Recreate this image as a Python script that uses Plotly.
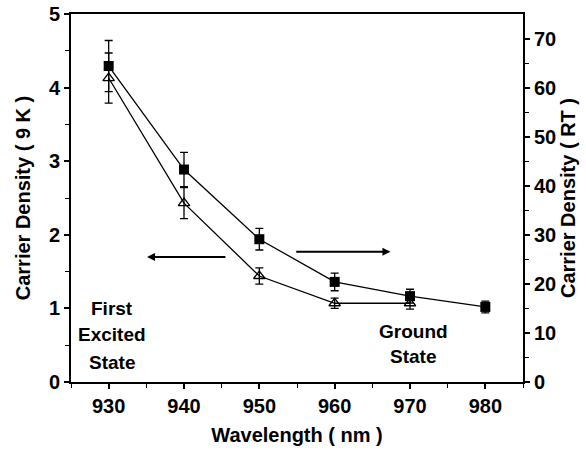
import plotly.graph_objects as go

wavelength_sq = [930, 940, 950, 960, 970, 980]
rt_density = [64.4, 43.3, 29.1, 20.4, 17.5, 15.3]
rt_err = [5.2, 3.5, 2.2, 1.8, 1.4, 1.2]

wavelength_tri = [930, 940, 950, 960, 970]
k9_density = [4.13, 2.43, 1.44, 1.07, 1.07]
k9_err = [0.34, 0.21, 0.11, 0.07, 0.08]

label_first = ["First", "Excited", "State"]
label_ground = ["Ground", "State"]

FONT = "Liberation Sans"

fig = go.Figure()
fig.add_trace(go.Scatter(
    x=wavelength_tri, y=k9_density, mode="lines+markers",
    line=dict(color="black", width=1.3),
    marker=dict(symbol="triangle-up-open", size=10, color="black", line=dict(width=1.3)),
    error_y=dict(type="data", array=k9_err, color="black", thickness=1.3, width=4),
    yaxis="y", showlegend=False))
fig.add_trace(go.Scatter(
    x=wavelength_sq, y=rt_density, mode="lines+markers",
    line=dict(color="black", width=1.3),
    marker=dict(symbol="square", size=10, color="black"),
    error_y=dict(type="data", array=rt_err, color="black", thickness=1.3, width=4),
    yaxis="y2", showlegend=False))

tickfont = dict(family=FONT, size=20, color="black", weight="bold")
titlefont = dict(family=FONT, size=20, color="black", weight="bold")

fig.update_layout(
    width=586, height=458,
    margin=dict(l=71, r=63, t=14, b=76),
    paper_bgcolor="white", plot_bgcolor="white",
    xaxis=dict(range=[925, 985], tickvals=[930, 940, 950, 960, 970, 980], automargin=False,
               ticks="outside", ticklen=5, tickwidth=1.5, tickcolor="black",
               minor=dict(tickvals=[925, 935, 945, 955, 965, 975, 985], ticks="outside", ticklen=4, tickwidth=1.2, tickcolor="black"),
               showline=True, linecolor="black", linewidth=2, mirror=True,
               showgrid=False, zeroline=False, tickfont=tickfont,
               title=dict(text="Wavelength ( nm )", font=titlefont, standoff=12)),
    yaxis=dict(range=[0, 5], tickvals=[0, 1, 2, 3, 4, 5], automargin=False,
               ticks="outside", ticklen=5, tickwidth=1.5, tickcolor="black",
               minor=dict(tickvals=[0.5, 1.5, 2.5, 3.5, 4.5], ticks="outside", ticklen=4, tickwidth=1.2, tickcolor="black"),
               showline=True, linecolor="black", linewidth=2,
               showgrid=False, zeroline=False, tickfont=tickfont,
               title=dict(text="Carrier Density ( 9 K )", font=titlefont, standoff=13)),
    yaxis2=dict(range=[0, 75], tickvals=[0, 10, 20, 30, 40, 50, 60, 70], automargin=False,
                overlaying="y", side="right",
                ticks="outside", ticklen=5, tickwidth=1.5, tickcolor="black",
                minor=dict(tickvals=[5, 15, 25, 35, 45, 55, 65], ticks="outside", ticklen=4, tickwidth=1.2, tickcolor="black"),
                showline=True, linecolor="black", linewidth=2,
                showgrid=False, zeroline=False, tickfont=tickfont,
                title=dict(text="Carrier Density ( RT )", font=titlefont, standoff=6)),
)

annfont = dict(family=FONT, size=19, color="black", weight="bold")
for txt, yv in zip(label_first, [1.005, 0.64, 0.27]):
    fig.add_annotation(x=930.45, y=yv, xref="x", yref="y", text=txt,
                       showarrow=False, font=annfont)
for txt, yv in zip(label_ground, [0.68, 0.34]):
    fig.add_annotation(x=970.4, y=yv, xref="x", yref="y", text=txt,
                       showarrow=False, font=annfont)
# arrows
fig.add_annotation(x=935.1, y=1.70, ax=945.7, ay=1.70, xref="x", yref="y", axref="x", ayref="y",
                   text="", showarrow=True, arrowhead=2, arrowsize=0.8, arrowwidth=2, arrowcolor="black")
fig.add_annotation(x=967.4, y=1.77, ax=954.7, ay=1.77, xref="x", yref="y", axref="x", ayref="y",
                   text="", showarrow=True, arrowhead=2, arrowsize=0.8, arrowwidth=2, arrowcolor="black")

fig.write_html("out.html")
